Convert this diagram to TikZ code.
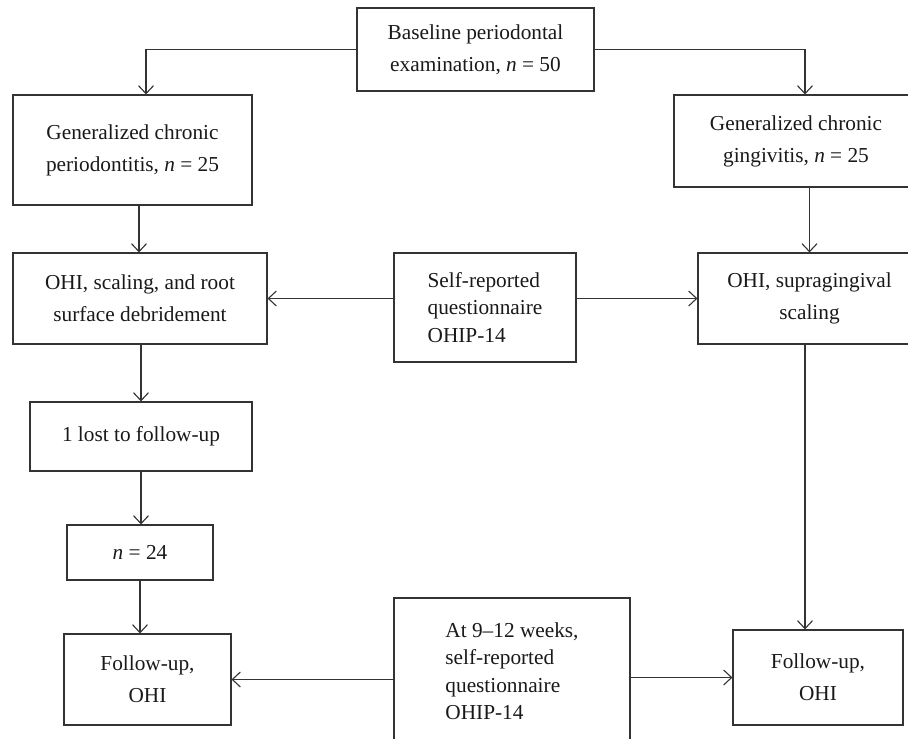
\documentclass[tikz,border=0pt]{standalone}
\usepackage{fontspec}
\setmainfont{Liberation Serif}
\usetikzlibrary{arrows.meta}
\begin{document}
\begin{tikzpicture}[
x=1pt, y=-1pt,
box/.style={draw=black!80, line width=1.1pt, inner sep=0pt, align=center, text=black!90, font=\fontsize{21.3}{32}\selectfont},
lbox/.style={box, align=left, font=\fontsize{21.3}{27.5}\selectfont},
arr/.style={draw=black!80, line width=1.1pt, -{Straight Barb[length=8pt,width=15pt]}}
]

\def\nn{\textit{n}~=~}

\useasboundingbox (0,0) rectangle (908,739);
\clip (0,0) rectangle (908,739);

%%% top
\node[box, minimum width=237pt, minimum height=83pt] (base) at (475.5,49.5) {Baseline periodontal\\examination, \nn50};
\node[box, minimum width=239pt, minimum height=110pt] (perio) at (132.5,150) {Generalized chronic\\periodontitis, \nn25};
\node[box, minimum width=244pt, minimum height=92pt] (gingi) at (796,141) {Generalized chronic\\gingivitis, \nn25};

%%% treatment
\node[box, minimum width=254pt, minimum height=91pt] (ohiL) at (140,298.5) {OHI, scaling, and root\\surface debridement};
\node[lbox, minimum width=182pt, minimum height=109pt] (selfq) at (485,307.5) {Self-reported\\questionnaire\\OHIP-14};
\node[box, minimum width=223pt, minimum height=91pt] (ohiR) at (809.5,298.5) {OHI, supragingival\\scaling};

%%% left branch
\node[box, minimum width=222pt, minimum height=69pt] (lost) at (141,436.5) {1 lost to follow-up};
\node[box, minimum width=146pt, minimum height=55pt] (n24) at (140,552.5) {\nn24};

%%% follow-up
\node[box, minimum width=167pt, minimum height=91pt] (fuL) at (147.5,679.5) {Follow-up,\\OHI};
\node[lbox, minimum width=236pt, minimum height=146pt] (weeks) at (512,671) {At 9--12 weeks,\\self-reported\\questionnaire\\OHIP-14};
\node[box, minimum width=170pt, minimum height=95pt] (fuR) at (818,677.5) {Follow-up,\\OHI};

%%% arrows
\draw[arr] (base.west) -| ([xshift=13.5pt]perio.north);
\draw[arr] (base.east) -| ([xshift=9pt]gingi.north);
\draw[arr] ([xshift=6.5pt]perio.south) -- ([xshift=6.5pt]perio.south |- ohiL.north);
\draw[arr] (gingi.south -| ohiR.north) -- (ohiR.north);
\draw[arr] (selfq.west |- ohiL.east) -- (ohiL.east);
\draw[arr] (selfq.east |- ohiR.west) -- (ohiR.west);
\draw[arr] (ohiL.south -| lost.north) -- (lost.north);
\draw[arr] (lost.south) -- (lost.south |- n24.north);
\draw[arr] (n24.south) -- (n24.south |- fuL.north);
\draw[arr] ([xshift=-4.5pt]ohiR.south) -- ([xshift=-4.5pt]ohiR.south |- fuR.north);
\draw[arr] (weeks.west |- fuL.east) -- (fuL.east);
\draw[arr] (weeks.east |- fuR.west) -- (fuR.west);

\end{tikzpicture}
\end{document}
